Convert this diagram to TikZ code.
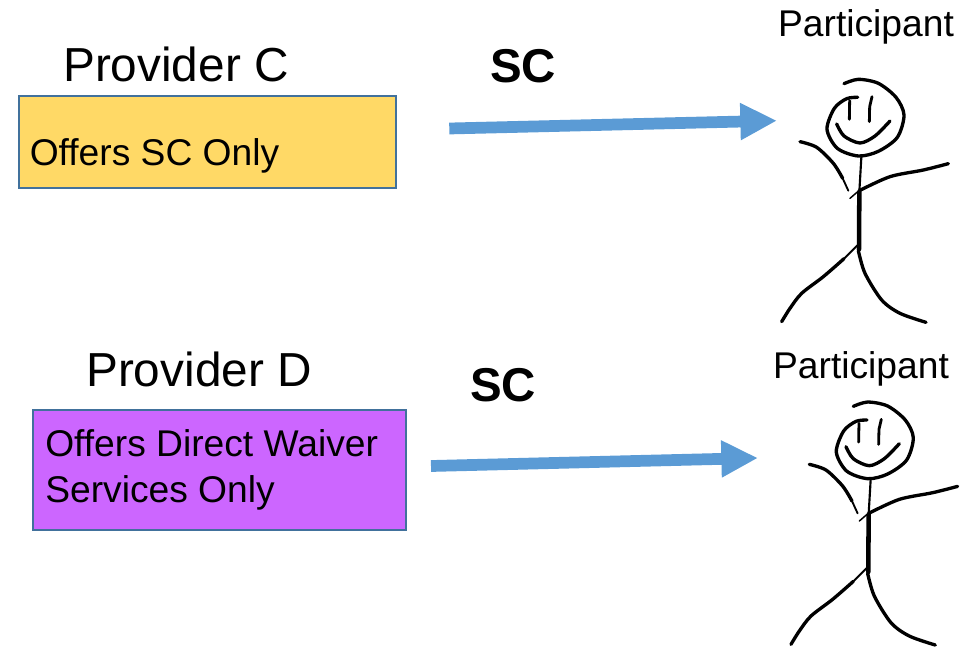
\documentclass[tikz,border=0pt]{standalone}
\usepackage{fontspec}
\setmainfont{Liberation Sans}
\usetikzlibrary{arrows.meta}

\tikzset{
  providerbox/.style={draw=boxedge,line width=1.5pt,anchor=north west,inner sep=0pt},
  boxtext/.style={anchor=west,align=left,inner sep=0pt,font=\fontsize{27.9pt}{34.5pt}\selectfont},
  bigtext/.style={inner sep=0pt,font=\fontsize{35.8pt}{40pt}\selectfont},
  flow/.style={draw=flowblue,line width=8.8pt,-{Triangle[length=27.5pt,width=26pt]}},
  ink/.style={black,line cap=round,line join=round,line width=2.5pt},
  stickman/.pic={
    \begin{scope}[x=0.25pt,y=-0.25pt]
    \draw[ink] plot[smooth] coordinates {(192,71) (235,58) (295,70) (348,112) (372,165) (352,232) (295,274) (235,288) (172,265) (141,208) (163,145) (200,116) (233,112)};
    \draw[ink,line width=2.1pt] (208,178) -- (209,122);
    \draw[ink,line width=2.1pt] (268,185) -- (269,140) -- (276,110);
    \draw[ink] plot[smooth] coordinates {(170,192) (192,228) (240,249) (285,228) (330,183)};
    \draw[ink,line width=1.6pt] (244,292) -- (238,395);
    \draw[ink,line width=3.4pt] (238,395) -- (237,568);
    \draw[ink] plot[smooth] coordinates {(60,245) (110,262) (160,310) (188,355)};
    \draw[ink,line width=1.4pt] (188,355) -- (205,392);
    \draw[ink,line width=1.1pt] (232,396) -- (210,415);
    \draw[ink] plot[smooth] coordinates {(238,392) (330,350) (430,330) (505,311)};
    \draw[ink,line width=1.5pt] (232,556) -- (192,596);
    \draw[ink] plot[smooth] coordinates {(192,596) (130,650) (65,700) (30,745) (5,785)};
    \draw[ink] plot[smooth] coordinates {(235,572) (255,640) (305,720) (360,760) (438,787)};
    \end{scope}
  }
}
\definecolor{boxedge}{HTML}{41719C}
\definecolor{flowblue}{HTML}{5B9BD5}
\definecolor{scyellow}{HTML}{FFD966}
\definecolor{waiverpurple}{HTML}{CC66FF}

\begin{document}
\begin{tikzpicture}[x=0.75pt,y=-0.75pt]
  \useasboundingbox (0,0) rectangle (974,649);
  \node[bigtext](ProviderC)at(176, 64){Provider C};
  \node[providerbox,fill=scyellow,minimum width=282.75pt,minimum height=69pt](BoxC)at(17.7, 95){};
  \node[boxtext](TextC)at(29.5, 156){Offers SC Only};
  \node[bigtext](ProviderD)at(199, 369){Provider D};
  \node[providerbox,fill=waiverpurple,minimum width=279.75pt,minimum height=90pt](BoxD)at(32, 408.8){};
  \node[boxtext](TextD)at(45, 470){Offers Direct Waiver\\Services Only};
  \node[bigtext,font=\fontsize{35.6pt}{40pt}\selectfont\bfseries](SC1)at(523, 66.5){SC};
  \node[bigtext,font=\fontsize{35.6pt}{40pt}\selectfont\bfseries](SC2)at(503, 385.5){SC};
  \node[boxtext,anchor=center](Part1)at(866, 27){Participant};
  \node[boxtext,anchor=center](Part2)at(861, 369){Participant};
  \coordinate(TailC)at(449.3, 128.5);
  \coordinate(TipC)at(777, 120.7);
  \coordinate(TailD)at(431, 466);
  \coordinate(TipD)at(758, 458);
  \path[flow](TailC) -- (TipC);
  \path[flow](TailD) -- (TipD);
  \pic at (780, 60) {stickman};
  \pic at (789.3, 382.7) {stickman};
\end{tikzpicture}
\end{document}
